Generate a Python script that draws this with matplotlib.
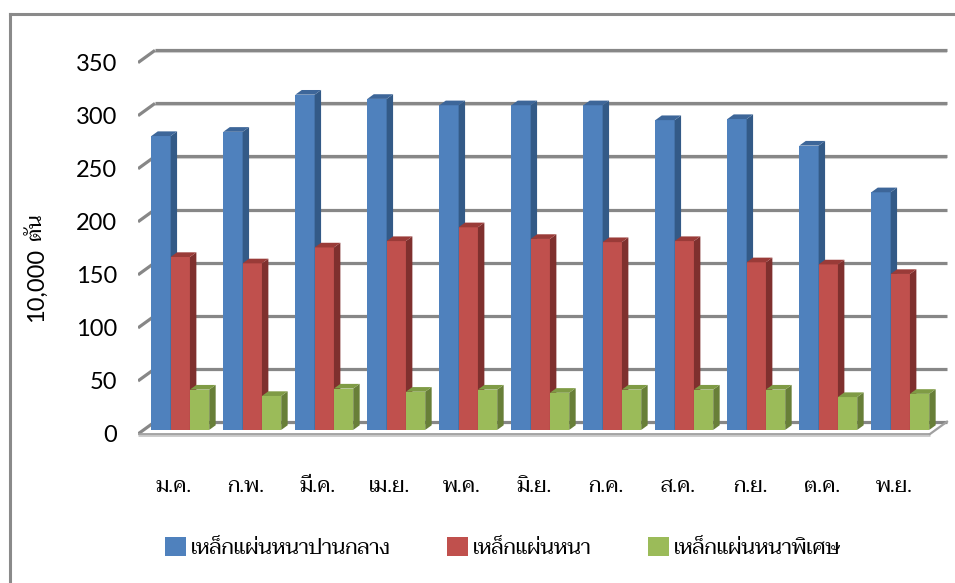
import matplotlib
matplotlib.use("Agg")
import matplotlib.pyplot as plt
from matplotlib import font_manager
from matplotlib.patches import Rectangle, Polygon, Patch
from matplotlib.lines import Line2D

# ---- data (10,000 ton) ----
months = ["ม.ค.", "ก.พ.", "มี.ค.", "เม.ย.", "พ.ค.", "มิ.ย.", "ก.ค.", "ส.ค.", "ก.ย.", "ต.ค.", "พ.ย."]
series_names = ["เหล็กแผ่นหนาปานกลาง", "เหล็กแผ่นหนา", "เหล็กแผ่นหนาพิเศษ"]
medium_plate = [277, 281, 316, 312, 306, 306, 306, 292, 293, 268, 224]
thick_plate = [163, 157, 172, 178, 191, 180, 177, 178, 158, 156, 147]
extra_thick_plate = [38, 32, 39, 36, 38, 35, 38, 38, 38, 31, 34]
y_ticks = [0, 50, 100, 150, 200, 250, 300, 350]

# front / side / top colours for each series
front_colors = ["#4F81BD", "#C0504D", "#9BBB59"]
side_colors = ["#335A87", "#7F302E", "#687F38"]
top_colors = ["#3D6699", "#9A3B38", "#7F9B45"]

# pick an installed Thai font
installed = {f.name for f in font_manager.fontManager.ttflist}
thai_font = "DejaVu Sans"
for name in ["Taviraj", "Trirong", "Sarabun", "Niramit"]:
    if name in installed:
        thai_font = name
        break
num_font = "Lato"

W, H = 955, 583
fig = plt.figure(figsize=(W / 100, H / 100), dpi=100)

# pixel scale of the plot: 72 px per category, 1.061 px per unit
px_x, px_y = 72.0, 1.061
DX, DY = 17 / px_x, 12.3 / px_y       # depth of the back wall
xmin, xmax = -0.5, 10.5 + DX + 0.06
ymin, ymax = -3, 365
left = 138
bottom = (H - 434) + ymin * px_y
ax = fig.add_axes([left / W, bottom / H, (xmax - xmin) * px_x / W, (ymax - ymin) * px_y / H])
ax.set_xlim(xmin, xmax)
ax.set_ylim(ymin, ymax)
ax.patch.set_visible(False)
for sp in ax.spines.values():
    sp.set_visible(False)

n = len(months)

# back wall gridlines with the slanted ticks on the left
grid_col = "#878787"
for v in y_ticks:
    ax.plot([-0.5 + DX, n - 0.5 + DX], [v + DY - 1.4, v + DY - 1.4], color="#d4d4d4", lw=1.5, zorder=1,
            solid_capstyle="butt")
    ax.plot([-0.5 + DX, n - 0.5 + DX], [v + DY, v + DY], color=grid_col, lw=2.3, zorder=2,
            solid_capstyle="butt")
    ax.plot([-0.5, -0.5 + DX], [v, v + DY], color=grid_col, lw=2.3, zorder=2, solid_capstyle="butt")

# floor edges
ax.plot([-0.5, n - 0.5], [0 - 1.2, 0 - 1.2], color="#c8c8c8", lw=2.0, zorder=2, solid_capstyle="butt")
ax.plot([-0.5, n - 0.5], [0, 0], color="#a0a0a0", lw=1.3, zorder=2, solid_capstyle="butt")
ax.plot([n - 0.5, n - 0.5 + DX], [0, DY], color="#a0a0a0", lw=1.6, zorder=2)

# 3D-looking clustered columns
bar_w = 0.268
offset = 0.185
t0 = 0.33
depth = 0.38
series = [medium_plate, thick_plate, extra_thick_plate]
z = 3
for i in range(n):
    for s, vals in enumerate(series):
        v = vals[i]
        x0 = i - 0.5 + offset + s * bar_w
        y0 = t0 * DY
        ddx, ddy = depth * DX, depth * DY
        ax.add_patch(Rectangle((x0, y0), bar_w, v, facecolor=front_colors[s], edgecolor="none", zorder=z))
        ax.add_patch(Polygon([(x0 + bar_w, y0), (x0 + bar_w + ddx, y0 + ddy),
                              (x0 + bar_w + ddx, y0 + v + ddy), (x0 + bar_w, y0 + v)],
                             closed=True, facecolor=side_colors[s], edgecolor="none", zorder=z))
        ax.add_patch(Polygon([(x0, y0 + v), (x0 + ddx, y0 + v + ddy),
                              (x0 + bar_w + ddx, y0 + v + ddy), (x0 + bar_w, y0 + v)],
                             closed=True, facecolor=top_colors[s], edgecolor="none", zorder=z))
        z += 1

# axis labels
ax.set_yticks(y_ticks)
ax.set_yticklabels([str(t) for t in y_ticks], family=num_font, fontsize=17)
ax.set_xticks(range(n))
ax.set_xticklabels(months, family=thai_font, fontsize=15)
ax.tick_params(axis="y", length=0, pad=15)
ax.tick_params(axis="x", length=0, pad=29)

fig.text(36 / W, 1 - 285 / H, "10,000", family=num_font, fontsize=17, rotation=90,
         ha="center", va="center")
fig.text(36 / W, 1 - 227 / H, "ตัน", family=thai_font, fontsize=15, rotation=90,
         ha="center", va="center")

# legend
handles = [Patch(facecolor=c, edgecolor="none") for c in front_colors]
fig.legend(handles, series_names, loc="center", bbox_to_anchor=(503 / W, 35 / H), ncol=3,
           frameon=False, prop={"family": thai_font, "size": 15}, handlelength=1.0,
           handleheight=1.0, handletextpad=0.25, columnspacing=2.7)

# outer chart border (runs past the right and bottom edges)
border = "#8a8a8a"
fig.add_artist(Line2D([10 / W, 10 / W], [0, 1 - 14 / H], color=border, lw=2.2))
fig.add_artist(Line2D([10 / W, 1], [1 - 14 / H, 1 - 14 / H], color=border, lw=2.2))

fig.savefig("out.png", dpi=100)
